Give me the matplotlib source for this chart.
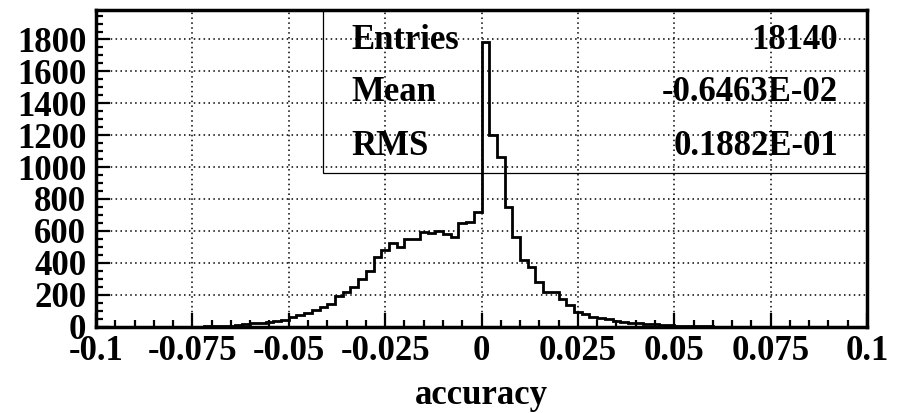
import numpy as np
import matplotlib

matplotlib.use("Agg")
import matplotlib.pyplot as plt
from matplotlib.patches import Rectangle

# 100 bins of width 0.002 covering [-0.1, 0.1]
x_lo, x_hi, n_bins = -0.1, 0.1, 100
counts = [
    0, 0, 0, 0, 0, 0, 0, 0, 0, 0,
    0, 0, 0, 0, 1, 2, 4, 6, 12, 16,
    22, 25, 28, 35, 40, 58, 70, 82, 102, 122,
    143, 190, 218, 250, 298, 348, 434, 480, 525, 496,
    547, 550, 594, 584, 599, 578, 563, 651, 655, 720,
    1786, 1200, 1065, 751, 563, 417, 375, 281, 218, 215,
    170, 135, 93, 78, 62, 52, 48, 36, 30, 24,
    22, 18, 14, 10, 7, 5, 3, 2, 1, 1,
    0, 0, 0, 0, 0, 0, 0, 0, 0, 0,
    0, 0, 0, 0, 0, 0, 0, 0, 0, 0,
]
x_ticks = [-0.1, -0.075, -0.05, -0.025, 0.0, 0.025, 0.05, 0.075, 0.1]
x_tick_labels = ["-0.1", "-0.075", "-0.05", "-0.025", "0", "0.025", "0.05", "0.075", "0.1"]
y_ticks = [0, 200, 400, 600, 800, 1000, 1200, 1400, 1600, 1800]
stat_names = ["Entries", "Mean", "RMS"]
stat_values = ["18140", "-0.6463E-02", "0.1882E-01"]

font = {"family": "Liberation Serif", "weight": "bold", "size": 25}

fig = plt.figure(figsize=(9.04, 4.13), dpi=100)
ax = fig.add_axes([0.1062, 0.2094, 0.8529, 0.7664])

edges = np.linspace(x_lo, x_hi, n_bins + 1)
ax.stairs(counts, edges, color="black", linewidth=2.0, baseline=0)

ax.set_xlim(x_lo, x_hi)
ax.set_ylim(0, 1985)

ax.set_xticks(x_ticks)
ax.set_xticklabels(x_tick_labels, fontdict=font)
ax.set_xticks(np.arange(-0.1, 0.1001, 0.005), minor=True)
ax.set_yticks(y_ticks)
ax.set_yticklabels([str(v) for v in y_ticks], fontdict=font)
ax.set_yticks(np.arange(0, 1985, 50), minor=True)

ax.tick_params(which="both", direction="in", top=False, right=False,
               width=1.6, color="black")
ax.tick_params(which="major", length=10)
ax.tick_params(which="minor", length=5)
ax.tick_params(axis="x", which="major", pad=6)
ax.tick_params(axis="y", which="major", pad=7)

for spine in ax.spines.values():
    spine.set_linewidth(2.5)

ax.grid(True, which="major", color="black", linestyle=(0, (1, 2.2)), linewidth=1.1)
ax.set_axisbelow(True)

ax.set_xlabel("accuracy", fontdict=font, labelpad=8)

# statistics box in the upper right corner
ax.add_patch(Rectangle((0.2944, 0.485), 1 - 0.2944, 1 - 0.485,
                       transform=ax.transAxes, fill=False,
                       edgecolor="black", linewidth=0.9, clip_on=False))
for name, value, y in zip(stat_names, stat_values, [0.905, 0.738, 0.570]):
    ax.text(0.3316, y, name, transform=ax.transAxes, ha="left", va="center", **font)
    ax.text(0.9628, y, value, transform=ax.transAxes, ha="right", va="center", **font)

fig.savefig("out.png", dpi=100)
